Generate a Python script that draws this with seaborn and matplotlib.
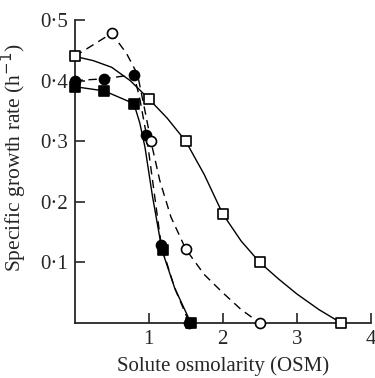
import matplotlib
matplotlib.use("Agg")
import matplotlib.pyplot as plt
import seaborn as sns

# marker positions (osmolarity, growth rate)
open_sq_x = [0.0, 1.0, 1.5, 2.0, 2.5, 3.6]
open_sq_y = [0.44, 0.37, 0.30, 0.18, 0.10, 0.0]
open_ci_x = [0.5, 1.03, 1.5, 2.5]
open_ci_y = [0.478, 0.30, 0.122, 0.0]
fill_ci_x = [0.0, 0.4, 0.8, 0.97, 1.17, 1.55]
fill_ci_y = [0.40, 0.403, 0.41, 0.31, 0.128, 0.0]
fill_sq_x = [0.0, 0.4, 0.8, 1.19, 1.57]
fill_sq_y = [0.39, 0.383, 0.362, 0.12, 0.0]

# hand-drawn fitted curves
curve_open_sq_x = [0.0, 0.25, 0.5, 0.75, 1.0, 1.25, 1.5, 1.75, 2.0, 2.25, 2.5, 2.75, 3.0, 3.3, 3.6]
curve_open_sq_y = [0.44, 0.433, 0.422, 0.40, 0.37, 0.338, 0.30, 0.245, 0.18, 0.135, 0.10, 0.073, 0.048, 0.022, 0.0]
curve_open_ci_x = [0.0, 0.5, 0.7, 0.85, 0.95, 1.03, 1.15, 1.3, 1.5, 1.75, 2.0, 2.25, 2.5]
curve_open_ci_y = [0.44, 0.478, 0.445, 0.41, 0.35, 0.30, 0.235, 0.175, 0.122, 0.08, 0.05, 0.022, 0.0]
curve_fill_ci_x = [0.0, 0.4, 0.8, 0.88, 0.97, 1.08, 1.17, 1.35, 1.55]
curve_fill_ci_y = [0.40, 0.403, 0.41, 0.37, 0.31, 0.21, 0.128, 0.058, 0.0]
curve_fill_sq_x = [0.0, 0.4, 0.8, 0.88, 0.95, 1.05, 1.18, 1.35, 1.57]
curve_fill_sq_y = [0.39, 0.383, 0.362, 0.33, 0.29, 0.21, 0.12, 0.058, 0.0]

y_ticks = [0.1, 0.2, 0.3, 0.4, 0.5]
y_labels = ["0·1", "0·2", "0·3", "0·4", "0·5"]
x_ticks = [1, 2, 3, 4]
x_labels = ["1", "2", "3", "4"]

sns.set_style("ticks")
plt.rcParams['font.family'] = ['Liberation Serif', 'DejaVu Serif']

fig = plt.figure(figsize=(3.75, 3.78), dpi=100)
ax = fig.add_axes([0.199, 0.1455, 0.79, 0.8016])

# curves
dash = (0, (6, 4))
sns.lineplot(x=curve_open_sq_x, y=curve_open_sq_y, sort=False, color='black', lw=1.0, ax=ax)
sns.lineplot(x=curve_fill_sq_x, y=curve_fill_sq_y, sort=False, color='black', lw=1.0, ax=ax)
sns.lineplot(x=curve_open_ci_x, y=curve_open_ci_y, sort=False, color='black', lw=1.0,
             ax=ax, linestyle=dash)
sns.lineplot(x=curve_fill_ci_x, y=curve_fill_ci_y, sort=False, color='black', lw=1.0,
             ax=ax, linestyle=dash)

# markers
kw = dict(ax=ax, s=52, linewidth=1.2, edgecolor='black', zorder=5, clip_on=False)
sns.scatterplot(x=fill_ci_x, y=fill_ci_y, marker='o', color='black', **kw)
sns.scatterplot(x=fill_sq_x, y=fill_sq_y, marker='s', color='black', **kw)
sns.scatterplot(x=open_ci_x, y=open_ci_y, marker='o', color='white', **kw)
sns.scatterplot(x=open_sq_x, y=open_sq_y, marker='s', color='white', **kw)

ax.set_xlim(0, 4)
ax.set_ylim(0, 0.5)
ax.set_xticks(x_ticks)
ax.set_xticklabels(x_labels)
ax.set_yticks(y_ticks)
ax.set_yticklabels(y_labels)
ax.tick_params(direction='in', length=7, width=1.2, labelsize=15, pad=5)
for s in ['top', 'right']:
    ax.spines[s].set_visible(False)
for s in ['left', 'bottom']:
    ax.spines[s].set_linewidth(1.3)

ax.set_xlabel('Solute osmolarity (OSM)', fontsize=15, labelpad=5)
ax.set_ylabel('Specific growth rate (h$^{-1}$)', fontsize=15.5)
ax.yaxis.set_label_coords(-0.155, 0.545)

fig.savefig('out.png', dpi=100)
